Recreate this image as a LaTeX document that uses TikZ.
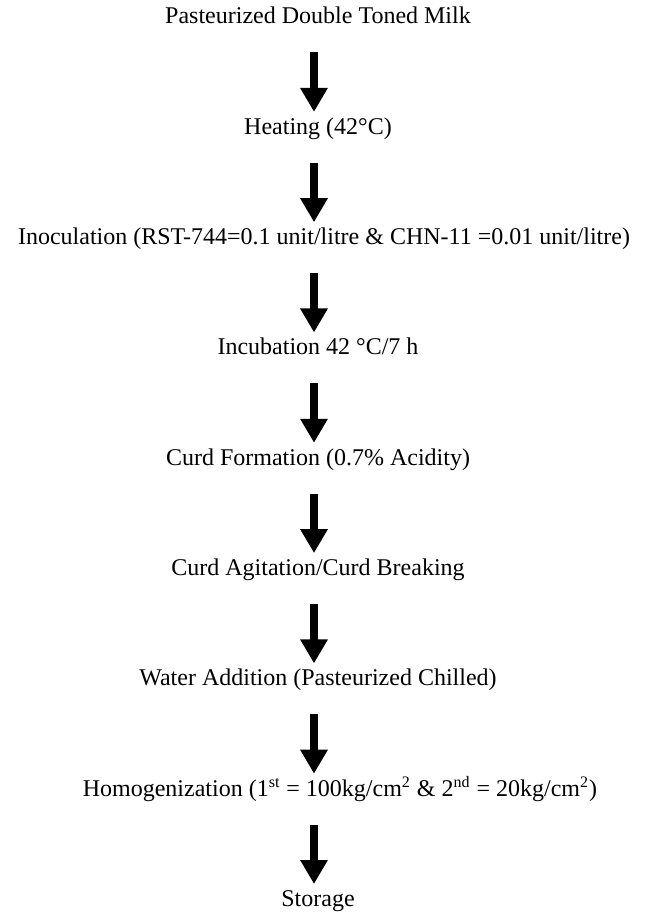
\documentclass[tikz,border=0pt]{standalone}
\usepackage{fontspec}
\setmainfont{Liberation Serif}
\usetikzlibrary{arrows.meta,positioning}

\begin{document}
\begin{tikzpicture}[
  stage/.style={inner xsep=0pt, inner ysep=2.5pt, text height=8.5pt, text depth=2.7pt, font=\fontsize{12pt}{14pt}\selectfont},
  flow/.style={-{Triangle[width=13pt,length=12pt]}, line width=4pt, shorten <=8.8pt},
  node distance=38.55pt
]
\useasboundingbox (0,0) rectangle (324.5pt,-457pt);
\coordinate (spine) at (157pt,0);

\node[stage, anchor=base] (milk) at (159pt,-12pt) {Pasteurized Double Toned Milk};
\node[stage, below=of milk] (heat) {Heating (42°C)};
\node[stage, below=of heat, xshift=3pt] (inoc) {Inoculation (RST-744=0.1 unit/litre \& CHN-11 =0.01 unit/litre)};
\node[stage, below=of inoc, xshift=-3pt] (incub) {Incubation 42 °C/7 h};
\node[stage, below=of incub] (curd) {Curd Formation (0.7\% Acidity)};
\node[stage, below=of curd] (agit) {Curd Agitation/Curd Breaking};
\node[stage, below=of agit] (water) {Water Addition (Pasteurized Chilled)};
\node[stage, below=of water, xshift=11pt] (homog) {Homogenization (1\textsuperscript{st} = 100kg/cm\textsuperscript{2} \& 2\textsuperscript{nd} = 20kg/cm\textsuperscript{2})};
\node[stage, below=of homog, xshift=-11pt] (store) {Storage};

% arrows down the spine
\foreach \a/\b in {milk/heat, heat/inoc, inoc/incub, incub/curd, curd/agit, agit/water, water/homog, homog/store}
  \draw[flow] (\a.south -| spine) -- (\b.north -| spine);

\end{tikzpicture}
\end{document}
